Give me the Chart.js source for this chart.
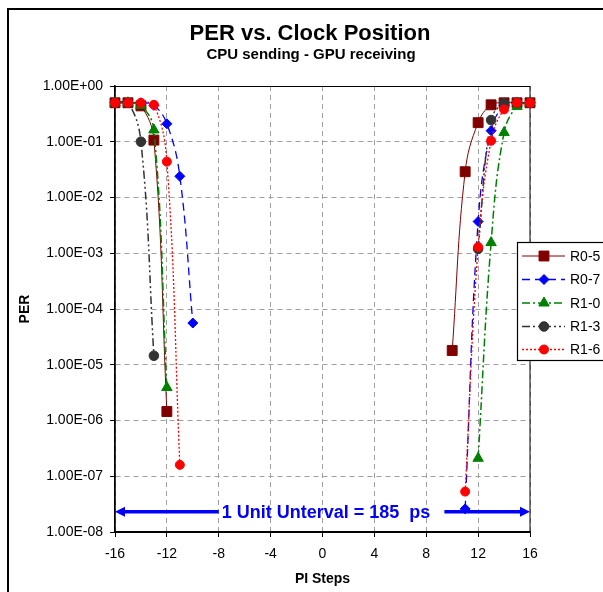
<!DOCTYPE html>
<html lang="en">
<head>
    <meta charset="UTF-8">
    <title>PER vs. Clock Position</title>
    <script src="https://cdn.jsdelivr.net/npm/chart.js"></script>
    <style>
        body { margin: 0; background: #FFFFFF; }
        .chart-container { position: relative; width: 603px; height: 592px; }
    </style>
</head>
<body>
    <div class="chart-container">
        <canvas id="chart"></canvas>
    </div>
    <script>
        // PI steps (null = break between the two edges) and PER per series
        const R05_STEPS = [-16, -15, -14, -13, -12, null, 10, 11, 12, 13, 14, 15, 16];
        const R05_PER = [0.5, 0.5, 0.44, 0.107, 1.45e-6, null, 1.8e-5, 0.029, 0.22, 0.46, 0.5, 0.5, 0.5];

        const R07_STEPS = [-16, -15, -14, -13, -12, -11, -10, null, 11, 12, 13, 14, 15, 16];
        const R07_PER = [0.5, 0.5, 0.5, 0.45, 0.21, 0.024, 5.6e-5, null, 2.6e-8, 3.7e-3, 0.158, 0.45, 0.5, 0.5];

        const R10_STEPS = [-16, -15, -14, -13, -12, null, 12, 13, 14, 15, 16];
        const R10_PER = [0.5, 0.5, 0.45, 0.163, 3.9e-6, null, 2.1e-7, 1.55e-3, 0.146, 0.43, 0.5];

        const R13_STEPS = [-16, -15, -14, -13, null, 12, 13, 14, 15, 16];
        const R13_PER = [0.5, 0.5, 0.1, 1.45e-5, null, 1.2e-3, 0.245, 0.49, 0.5, 0.5];

        const R16_STEPS = [-16, -15, -14, -13, -12, -11, null, 11, 12, 13, 14, 15, 16];
        const R16_PER = [0.5, 0.5, 0.5, 0.46, 0.044, 1.6e-7, null, 5.3e-8, 1.3e-3, 0.104, 0.38, 0.5, 0.5];

        const X_TICKS = [-16, -12, -8, -4, 0, 4, 8, 12, 16];
        const Y_TICKS = [1, 1e-1, 1e-2, 1e-3, 1e-4, 1e-5, 1e-6, 1e-7, 1e-8];

        // unit interval arrow annotation
        const ARROW_PER = 2.3e-8;
        const ARROW_FROM = -16, ARROW_TEXT_AT = -8, ARROW_RESUME = 9.4, ARROW_TO = 16;
        const ARROW_TEXT = "1 Unit Unterval = 185  ps";

        const FONT = "'Liberation Sans', Arial, sans-serif";

        function pts(steps, per) {
            return steps.map((s, i) => ({ x: s, y: per[i] }));
        }

        function sciLabel(v) {
            const e = Math.round(Math.log10(v));
            return '1.00E' + (e < 0 ? '-' : '+') + String(Math.abs(e)).padStart(2, '0');
        }

        const series = [
            { label: "R0-5", data: pts(R05_STEPS, R05_PER), color: "#800000", dash: [], width: 1, style: 'rect', radius: 7 },
            { label: "R0-7", data: pts(R07_STEPS, R07_PER), color: "#0000FF", dash: [8, 5], width: 1.3, style: 'rectRot', radius: 5 },
            { label: "R1-0", data: pts(R10_STEPS, R10_PER), color: "#008000", dash: [8, 3, 2, 3], width: 1.5, style: 'triangle', radius: 6 },
            { label: "R1-3", data: pts(R13_STEPS, R13_PER), color: "#333333", dash: [8, 3, 2, 3, 2, 3], width: 1.5, style: 'circle', radius: 4.8 },
            { label: "R1-6", data: pts(R16_STEPS, R16_PER), color: "#FF0000", dash: [2, 2], width: 1.3, style: 'circle', radius: 4.5 }
        ];

        const datasets = series.map((s, i) => ({
            label: s.label,
            data: s.data,
            borderColor: s.color,
            backgroundColor: s.color,
            borderWidth: s.width,
            borderDash: s.dash,
            pointStyle: s.style,
            pointRadius: s.radius,
            pointBorderWidth: 1,
            pointBackgroundColor: s.color,
            pointBorderColor: s.color,
            tension: 0.4,
            spanGaps: false,
            clip: false,
            order: series.length - i
        }));

        // Titles, outer frame, plot box, arrow and legend
        const decorations = {
            id: 'decorations',
            beforeDatasetsDraw(chart) {
                const { ctx, chartArea: a } = chart;
                ctx.save();
                ctx.strokeStyle = '#000';
                ctx.lineWidth = 1;
                ctx.strokeRect(a.left, a.top + 0.5, a.right - a.left, a.bottom - a.top);
                ctx.restore();
            },
            afterDatasetsDraw(chart) {
                const { ctx } = chart;
                const xs = chart.scales.x, ys = chart.scales.y;
                const y = ys.getPixelForValue(ARROW_PER);
                const x0 = xs.getPixelForValue(ARROW_FROM);
                const x1 = xs.getPixelForValue(ARROW_TEXT_AT);
                const x2 = xs.getPixelForValue(ARROW_RESUME);
                const x3 = xs.getPixelForValue(ARROW_TO);
                ctx.save();
                ctx.strokeStyle = '#0000FF';
                ctx.fillStyle = '#0000FF';
                ctx.lineWidth = 3.5;
                ctx.beginPath();
                ctx.moveTo(x0 + 8, y); ctx.lineTo(x1, y);
                ctx.moveTo(x2, y); ctx.lineTo(x3 - 8, y);
                ctx.stroke();
                ctx.beginPath();
                ctx.moveTo(x0, y); ctx.lineTo(x0 + 10, y - 5); ctx.lineTo(x0 + 10, y + 5); ctx.closePath();
                ctx.moveTo(x3, y); ctx.lineTo(x3 - 10, y - 5); ctx.lineTo(x3 - 10, y + 5); ctx.closePath();
                ctx.fill();
                ctx.font = "bold 18px " + FONT;
                ctx.textBaseline = 'middle';
                ctx.textAlign = 'left';
                ctx.fillText(ARROW_TEXT, x1 + 3, y + 1);
                ctx.restore();
            },
            afterDraw(chart) {
                const { ctx } = chart;
                ctx.save();
                // outer frame
                ctx.strokeStyle = '#000';
                ctx.lineWidth = 2;
                ctx.strokeRect(8, 9, 620, 620);
                // titles
                ctx.fillStyle = '#000';
                ctx.textAlign = 'center';
                ctx.textBaseline = 'middle';
                ctx.font = "bold 22px " + FONT;
                ctx.fillText("PER vs. Clock Position", 310, 34);
                ctx.font = "bold 15px " + FONT;
                ctx.fillText("CPU sending - GPU receiving", 311, 55);
                // legend
                const lx = 517, ly = 242, lw = 100, lh = 118;
                ctx.fillStyle = '#FFF';
                ctx.fillRect(lx, ly, lw, lh);
                ctx.lineWidth = 1.2;
                ctx.strokeRect(lx + 0.5, ly + 0.5, lw, lh);
                const rowY = [256, 279.5, 303, 326.5, 349.5];
                series.forEach((s, i) => {
                    const yy = rowY[i];
                    ctx.save();
                    ctx.strokeStyle = s.color;
                    ctx.lineWidth = s.width;
                    ctx.setLineDash(s.dash);
                    ctx.beginPath();
                    ctx.moveTo(522, yy); ctx.lineTo(565, yy);
                    ctx.stroke();
                    ctx.setLineDash([]);
                    ctx.fillStyle = s.color;
                    ctx.strokeStyle = s.color;
                    ctx.lineWidth = 1;
                    Chart.helpers.drawPoint(ctx, { pointStyle: s.style, radius: s.radius, rotation: 0, borderWidth: 1 }, 544, yy);
                    ctx.restore();
                    ctx.fillStyle = '#000';
                    ctx.font = "14px " + FONT;
                    ctx.textAlign = 'left';
                    ctx.fillText(s.label, 570, yy + 1);
                });
                ctx.restore();
            }
        };

        const ctx = document.getElementById('chart').getContext('2d');
        const chart = new Chart(ctx, {
            type: 'line',
            data: { datasets: datasets },
            options: {
                responsive: true,
                maintainAspectRatio: false,
                animation: false,
                layout: { padding: { left: 10, top: 86, right: 73, bottom: 0 } },
                plugins: {
                    legend: { display: false },
                    tooltip: { enabled: false }
                },
                scales: {
                    x: {
                        type: 'linear',
                        min: -16,
                        max: 16,
                        afterBuildTicks: axis => { axis.ticks = X_TICKS.map(v => ({ value: v })); },
                        afterFit: axis => { axis.height = 60; },
                        ticks: {
                            color: '#000',
                            padding: 9,
                            font: { family: FONT, size: 14 },
                            callback: v => String(v)
                        },
                        grid: { color: '#A0A0A0', lineWidth: 1, tickLength: 5, tickColor: '#000' },
                        border: { color: '#000', width: 1.5, dash: [5, 4] },
                        title: {
                            display: true,
                            text: "PI Steps",
                            color: '#000',
                            font: { family: FONT, size: 14, weight: 'bold' },
                            padding: { top: 0, bottom: 4 }
                        }
                    },
                    y: {
                        type: 'logarithmic',
                        min: 1e-8,
                        max: 1,
                        afterBuildTicks: axis => { axis.ticks = Y_TICKS.map(v => ({ value: v })); },
                        afterFit: axis => { axis.width = 105; },
                        ticks: {
                            color: '#000',
                            padding: 7,
                            font: { family: FONT, size: 14 },
                            callback: v => sciLabel(v)
                        },
                        grid: { color: '#A0A0A0', lineWidth: 1, tickLength: 5, tickColor: '#000' },
                        border: { color: '#000', width: 1.5, dash: [5, 4] },
                        title: {
                            display: true,
                            text: "PER",
                            color: '#000',
                            font: { family: FONT, size: 14, weight: 'bold' },
                            padding: { top: 7, bottom: 0 }
                        }
                    }
                }
            },
            plugins: [decorations]
        });
    </script>
</body>
</html>
